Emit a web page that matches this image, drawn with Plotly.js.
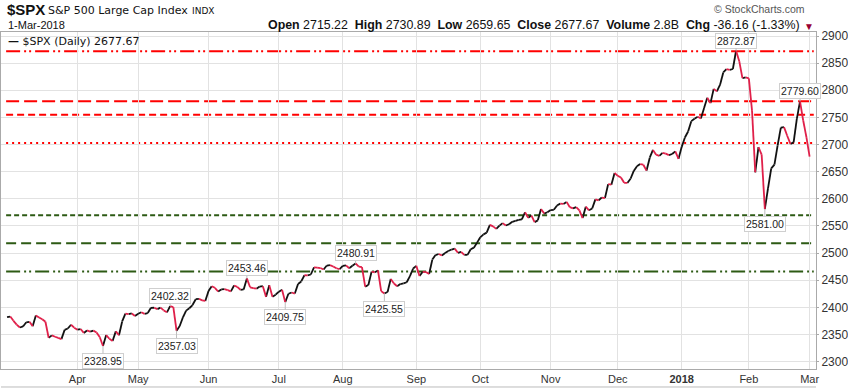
<!DOCTYPE html>
<html>
<head>
<meta charset="utf-8">
<script src="https://cdn.plot.ly/plotly-3.0.1.min.js"></script>
<style>
html,body{margin:0;padding:0;background:#fff;}
#chart{width:848px;height:388px;}
</style>
</head>
<body>
<div id="chart"></div>
<script>
// Daily closes, 2-Mar-2017 .. 1-Mar-2018 (trading days)
const closesMar17 = [2381.92,2383.12,2375.31,2368.39,2362.98,2364.87,2372.60,2373.47,2365.45,2385.26,2381.38,2378.25,2373.47,2344.02,2348.45,2345.96,2343.98,2341.59,2358.57,2361.13,2368.06,2362.72];
const closesApr17 = [2358.84,2360.16,2352.95,2357.49,2355.54,2357.16,2353.78,2344.93,2328.95,2349.01,2342.19,2338.17,2355.84,2348.69,2374.15,2388.61,2387.45,2388.77,2384.20];
const closesMay17 = [2388.33,2391.17,2388.13,2389.52,2399.29,2399.38,2396.92,2399.63,2394.44,2390.90,2402.32,2400.67,2357.03,2365.72,2381.73,2394.02,2398.42,2404.39,2415.07,2415.82,2412.91,2411.80];
const closesJun17 = [2430.06,2439.07,2436.10,2429.33,2433.14,2433.79,2431.77,2429.39,2440.35,2437.92,2432.46,2433.15,2453.46,2437.03,2435.61,2434.50,2438.30,2439.07,2419.38,2440.69,2419.70,2423.41];
const closesJul17 = [2429.01,2432.54,2409.75,2425.18,2427.43,2425.53,2443.25,2447.83,2459.27,2459.14,2460.61,2473.83,2473.45,2472.54,2469.91,2477.13,2477.83,2475.42,2472.10,2470.30];
const closesAug17 = [2476.35,2477.57,2472.16,2476.83,2480.91,2474.92,2474.02,2438.21,2441.32,2465.84,2464.61,2468.11,2430.01,2425.55,2428.37,2452.51,2444.04,2438.97,2443.05,2444.24,2446.30,2457.59,2471.65];
const closesSep17 = [2476.55,2457.85,2465.54,2465.10,2461.43,2488.11,2496.48,2498.37,2495.62,2500.23,2503.87,2506.65,2508.24,2500.60,2502.22,2496.66,2496.84,2507.04,2510.06,2519.36];
const closesOct17 = [2529.12,2534.58,2537.74,2552.07,2549.33,2544.73,2550.64,2555.24,2550.93,2553.17,2557.64,2559.36,2561.26,2562.10,2575.21,2564.98,2569.13,2557.15,2560.40,2581.07,2572.83,2575.26];
const closesNov17 = [2579.36,2579.85,2587.84,2591.13,2590.64,2594.38,2584.62,2582.30,2584.84,2578.87,2564.62,2585.64,2578.85,2582.14,2599.03,2597.08,2602.42,2601.42,2627.04,2626.07,2647.58];
const closesDec17 = [2642.22,2639.44,2629.57,2629.27,2636.98,2651.50,2659.99,2664.11,2662.85,2652.01,2675.81,2690.16,2681.47,2679.25,2684.57,2683.34,2680.50,2682.62,2687.54,2673.61];
const closesJan18 = [2695.81,2713.06,2723.99,2743.15,2747.71,2751.29,2748.23,2767.56,2786.24,2776.42,2802.56,2798.03,2810.30,2832.97,2839.13,2837.54,2839.25,2872.87,2853.53,2822.43,2823.81];
const closesFeb18 = [2821.98,2762.13,2648.94,2695.14,2681.66,2581.00,2619.55,2656.00,2662.94,2698.63,2731.20,2732.22,2716.26,2701.33,2703.96,2747.30,2779.60,2744.28,2713.83];
const closesMar18 = [2677.67];

// Month tick positions (trading-day index of first session of month)
const monthTickIdx  = [22,41,63,85,105,128,148,170,191,211,232,251];
const monthTickText = ['Apr','May','Jun','Jul','Aug','Sep','Oct','Nov','Dec','<b>2018</b>','Feb','Mar'];

// Labeled highs / lows: index, value, above?
const markIdx   = [30,51,53,75,87,109,118,228,237,248];
const markVal   = [2328.95,2402.32,2357.03,2453.46,2409.75,2480.91,2425.55,2872.87,2581.00,2779.60];
const markAbove = [false,true,false,true,false,true,false,true,false,true];

// Horizontal support / resistance levels
const levelVals   = [2872,2779.6,2755,2703,2570,2518,2466];
const levelColors = ['#ff0000','#ff0000','#ff0000','#ff0000','#2d5a14','#2d5a14','#2d5a14'];
const levelDash   = ['14px,4px,2px,3px,2px,4px','13px,5px','7px,4px','2px,4px','5px,3px','10px,5px','14px,4px,2px,3px,2px,4px'];

const closes = [].concat(closesMar17,closesApr17,closesMay17,closesJun17,closesJul17,closesAug17,closesSep17,closesOct17,closesNov17,closesDec17,closesJan18,closesFeb18,closesMar18);

const upX=[],upY=[],dnX=[],dnY=[];
for(let i=1;i<closes.length;i++){
  if(closes[i]>=closes[i-1]){ upX.push(i-1,i,null); upY.push(closes[i-1],closes[i],null); }
  else { dnX.push(i-1,i,null); dnY.push(closes[i-1],closes[i],null); }
}

const traces = [
  {x:upX,y:upY,type:'scatter',mode:'lines',line:{color:'#111111',width:1.8},hoverinfo:'skip',showlegend:false,connectgaps:false},
  {x:dnX,y:dnY,type:'scatter',mode:'lines',line:{color:'#e0204a',width:1.8},hoverinfo:'skip',showlegend:false,connectgaps:false}
];

const shapes = levelVals.map((v,i)=>({type:'line',xref:'x',yref:'y',x0:-0.3,x1:252.3,y0:v,y1:v,layer:'below',
  line:{color:levelColors[i],width:2,dash:levelDash[i]}}));
shapes.push({type:'line',xref:'paper',yref:'paper',x0:0,x1:1,y0:-0.0534,y1:-0.0534,line:{color:'#bbbbbb',width:1}});

const L=1, R=816, PW=R-L;
const px = p => (p-L)/PW;
const T=32, B=369, PH=B-T;
const py = p => (B-p)/PH;

const annotations = [];
markIdx.forEach((ix,i)=>{
  annotations.push({x:ix,y:markVal[i],xref:'x',yref:'y',text:markVal[i].toFixed(2),
    showarrow:true,arrowhead:0,arrowwidth:1,arrowcolor:'#bdbdbd',ax:0,ay:markAbove[i]?-10:15,
    bgcolor:'#ffffff',bordercolor:'#cfcfcf',borderwidth:1,borderpad:1,
    font:{family:'Liberation Sans, Arial, sans-serif',size:10.5,color:'#222'}});
});
const hdr = (text,x,y,size,anchor,color,family)=>({xref:'paper',yref:'paper',x:px(x),y:py(y),xanchor:anchor,yanchor:'middle',
  text:text,showarrow:false,font:{family:family||'Liberation Sans, Arial, sans-serif',size:size,color:color||'#111'}});
annotations.push(hdr('<b>$SPX</b>',5,10,15,'left','#111'));
annotations.push(hdr('S&amp;P 500 Large Cap Index',46,11,11,'left','#111','DejaVu Sans, Verdana, sans-serif'));
annotations.push(hdr('INDX',190,11,9,'left','#111','DejaVu Sans, Verdana, sans-serif'));
annotations.push(hdr('1-Mar-2018',6,25,11,'left','#111'));
annotations.push(hdr('<b>Open</b> 2715.22  <b>High</b> 2730.89  <b>Low</b> 2659.65  <b>Close</b> 2677.67  <b>Volume</b> 2.8B  <b>Chg</b> -36.16 (-1.33%)',802,25,12.4,'right','#111'));
annotations.push(hdr('▼',809,26,10,'center','#990033'));
annotations.push(hdr('© StockCharts.com',807,9,10.5,'right','#555'));
annotations.push(hdr('<b>—</b> $SPX (Daily) 2677.67',6,41,11,'left','#111','DejaVu Sans, Verdana, sans-serif'));

const layout = {
  width:848,height:388,
  margin:{l:L,r:848-R,t:T,b:388-B,pad:0},
  paper_bgcolor:'#ffffff',plot_bgcolor:'#ffffff',
  showlegend:false,
  xaxis:{range:[-1.9,253],tickmode:'array',tickvals:monthTickIdx,ticktext:monthTickText,
    showgrid:true,gridcolor:'#e2e2e2',gridwidth:1,zeroline:false,showline:true,linecolor:'#aaaaaa',mirror:true,
    ticks:'',tickfont:{family:'Liberation Sans, Arial, sans-serif',size:11,color:'#333'},fixedrange:true},
  yaxis:{side:'right',range:[2286.5,2907.4],tick0:2300,dtick:50,
    showgrid:true,gridcolor:'#e2e2e2',gridwidth:1,zeroline:false,showline:true,linecolor:'#aaaaaa',mirror:true,
    ticks:'outside',ticklen:2,tickcolor:'#aaaaaa',tickfont:{family:'Liberation Sans, Arial, sans-serif',size:12,color:'#333'},fixedrange:true},
  shapes:shapes,
  annotations:annotations
};

Plotly.newPlot('chart',traces,layout,{displayModeBar:false,staticPlot:true});
</script>
</body>
</html>
